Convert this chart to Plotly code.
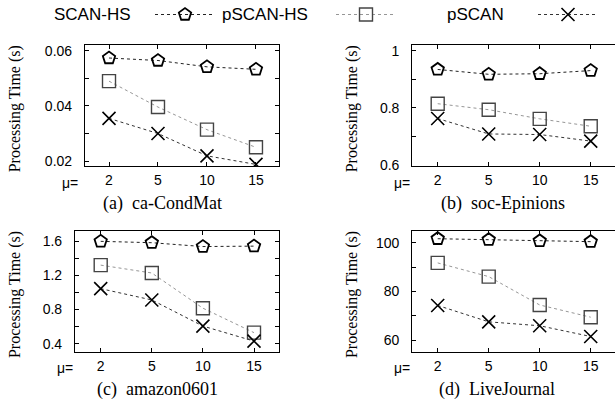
import plotly.graph_objects as go

# ---------------- data ----------------
mu_labels = ["2", "5", "10", "15"]
series_names = ["SCAN-HS", "pSCAN-HS", "pSCAN"]

condmat_scan_hs = [0.0574, 0.0565, 0.0542, 0.0533]
condmat_pscan_hs = [0.0490, 0.0396, 0.0314, 0.0250]
condmat_pscan = [0.0355, 0.0300, 0.0219, 0.0188]

epinions_scan_hs = [0.935, 0.918, 0.920, 0.931]
epinions_pscan_hs = [0.815, 0.794, 0.762, 0.736]
epinions_pscan = [0.763, 0.709, 0.707, 0.684]

amazon_scan_hs = [1.596, 1.580, 1.535, 1.540]
amazon_pscan_hs = [1.318, 1.226, 0.815, 0.529]
amazon_pscan = [1.043, 0.911, 0.606, 0.430]

lj_scan_hs = [101.6, 101.2, 100.7, 100.4]
lj_pscan_hs = [91.7, 86.1, 74.5, 69.5]
lj_pscan = [74.3, 67.6, 66.0, 61.6]

captions = ["(a)  ca-CondMat", "(b)  soc-Epinions", "(c)  amazon0601", "(d)  LiveJournal"]
y_title = "Processing Time (s)"

panel_data = [
    [condmat_scan_hs, condmat_pscan_hs, condmat_pscan],
    [epinions_scan_hs, epinions_pscan_hs, epinions_pscan],
    [amazon_scan_hs, amazon_pscan_hs, amazon_pscan],
    [lj_scan_hs, lj_pscan_hs, lj_pscan],
]

# ---------------- layout helpers ----------------
W, H = 615, 413
def px(x):
    return x / W
def py(y):
    return 1 - y / H

SANS = "Liberation Sans, Arial, Helvetica, sans-serif"
SERIF = "Liberation Serif, Times New Roman, serif"

panels = [
    dict(dom_x=(85, 279), dom_y=(44.3, 167.7), xr=(-0.49, 3.47), yr=(0.0182, 0.062),
         dtick=0.02, minor=0.01, fmt=".2f", right=False, ytx=15, capx=162, capy=206, mux=-5),
    dict(dom_x=(412.3, 615), dom_y=(44.3, 167.7), xr=(-0.498, 3.476), yr=(0.5966, 1.0195),
         dtick=0.2, minor=0.1, fmt="", right=True, ytx=352, capx=503, capy=206, mux=0),
    dict(dom_x=(75, 279.3), dom_y=(234, 357.7), xr=(-0.503, 3.495), yr=(0.304, 1.718),
         dtick=0.4, minor=0.2, fmt=".1f", right=False, ytx=15, capx=157, capy=396, mux=0),
    dict(dom_x=(412.3, 615), dom_y=(234, 357.7), xr=(-0.498, 3.476), yr=(55.3, 104.8),
         dtick=20, minor=10, fmt="", right=True, ytx=352, capx=497, capy=396, mux=0),
]

styles = [
    dict(line=dict(color="#222222", width=1.0, dash="dot"),
         marker=dict(symbol="pentagon-open", size=13, color="#000000",
                     line=dict(width=1.8, color="#000000"))),
    dict(line=dict(color="#8a8a8a", width=0.9, dash="dot"),
         marker=dict(symbol="square-open", size=13, color="#444444",
                     line=dict(width=1.4, color="#444444"))),
    dict(line=dict(color="#333333", width=1.0, dash="dot"),
         marker=dict(symbol="x-thin-open", size=13, color="#000000",
                     line=dict(width=1.6, color="#000000"))),
]

fig = go.Figure()
legend_ids = ["legend", "legend2", "legend3"]

for i, (p, data) in enumerate(zip(panels, panel_data)):
    n = i + 1
    xa = "x" if n == 1 else f"x{n}"
    ya = "y" if n == 1 else f"y{n}"
    for j, (name, vals) in enumerate(zip(series_names, data)):
        fig.add_trace(go.Scatter(
            x=mu_labels, y=vals, mode="lines+markers", name="",
            legendgroup=name, showlegend=(i == 0), legend=legend_ids[j],
            line=styles[j]["line"], marker=styles[j]["marker"],
            xaxis=xa, yaxis=ya, hoverinfo="skip"))

    xkey = "xaxis" if n == 1 else f"xaxis{n}"
    ykey = "yaxis" if n == 1 else f"yaxis{n}"
    fig.layout[xkey] = dict(
        domain=[px(p["dom_x"][0]), px(p["dom_x"][1])], anchor=ya,
        type="category", range=list(p["xr"]),
        showline=True, linecolor="black", linewidth=1.2, mirror="ticks",
        ticks="inside", ticklen=4, tickcolor="black", tickwidth=1,
        showgrid=False, zeroline=False, ticklabelstandoff=1,
        tickfont=dict(family=SANS, size=14, color="black"))
    fig.layout[ykey] = dict(
        domain=[py(p["dom_y"][1]), py(p["dom_y"][0])], anchor=xa,
        range=list(p["yr"]), dtick=p["dtick"], tick0=0, tickformat=p["fmt"],
        showline=True, linecolor="black", linewidth=1.2,
        mirror=False if p["right"] else "ticks",
        ticks="inside", ticklen=4, tickcolor="black", tickwidth=1,
        minor=dict(dtick=p["minor"], tick0=0, ticks="inside", ticklen=4,
                   tickcolor="black", tickwidth=1, showgrid=False),
        showgrid=False, zeroline=False, ticklabelstandoff=9,
        tickfont=dict(family=SANS, size=14, color="black"))
    if p["right"]:
        okey = f"yaxis{n + 4}"
        fig.layout[okey] = dict(
            overlaying=ya, anchor=xa, side="right",
            range=list(p["yr"]), dtick=p["dtick"], tick0=0,
            showline=False, showticklabels=False,
            ticks="inside", ticklen=4, tickcolor="black", tickwidth=1,
            minor=dict(dtick=p["minor"], tick0=0, ticks="inside", ticklen=4,
                       tickcolor="black", tickwidth=1, showgrid=False),
            showgrid=False, zeroline=False)

    # mu= label
    fig.add_annotation(text="\u03bc=", xref=f"{xa} domain", yref=f"{ya} domain",
                       x=0, y=0, xanchor="right", yanchor="middle",
                       xshift=p["mux"], yshift=-16.5, showarrow=False,
                       font=dict(family=SANS, size=14, color="black"))
    # y-axis title
    fig.add_annotation(text=y_title, xref="paper", yref=f"{ya} domain",
                       x=px(p["ytx"]), y=0.47, xanchor="center", yanchor="middle",
                       textangle=-90, showarrow=False,
                       font=dict(family=SERIF, size=16, color="black"))
    # caption
    fig.add_annotation(text=captions[i], xref="paper", yref="paper",
                       x=px(p["capx"]), y=py(p["capy"]), xanchor="center", yanchor="middle",
                       showarrow=False, font=dict(family=SERIF, size=18, color="black"))

# legend texts (left of glyphs)
legend_text_x = [52, 220, 445]
for name, lx in zip(series_names, legend_text_x):
    fig.add_annotation(text=name, xref="paper", yref="paper", x=px(lx), y=py(12.7),
                       xanchor="left", yanchor="middle", showarrow=False,
                       font=dict(family=SANS, size=17, color="black"))

legend_glyph_x = [150, 331, 533]
for lid, gx in zip(legend_ids, legend_glyph_x):
    fig.layout[lid] = dict(x=px(gx), y=py(12.7), xanchor="left", yanchor="middle",
                           orientation="h", bgcolor="rgba(0,0,0,0)", borderwidth=0,
                           itemwidth=60, font=dict(size=1), tracegroupgap=0)

fig.update_layout(width=W, height=H, autosize=False,
                  margin=dict(l=0, r=0, t=0, b=0, pad=0),
                  paper_bgcolor="white", plot_bgcolor="white")

fig.write_html("out.html")
